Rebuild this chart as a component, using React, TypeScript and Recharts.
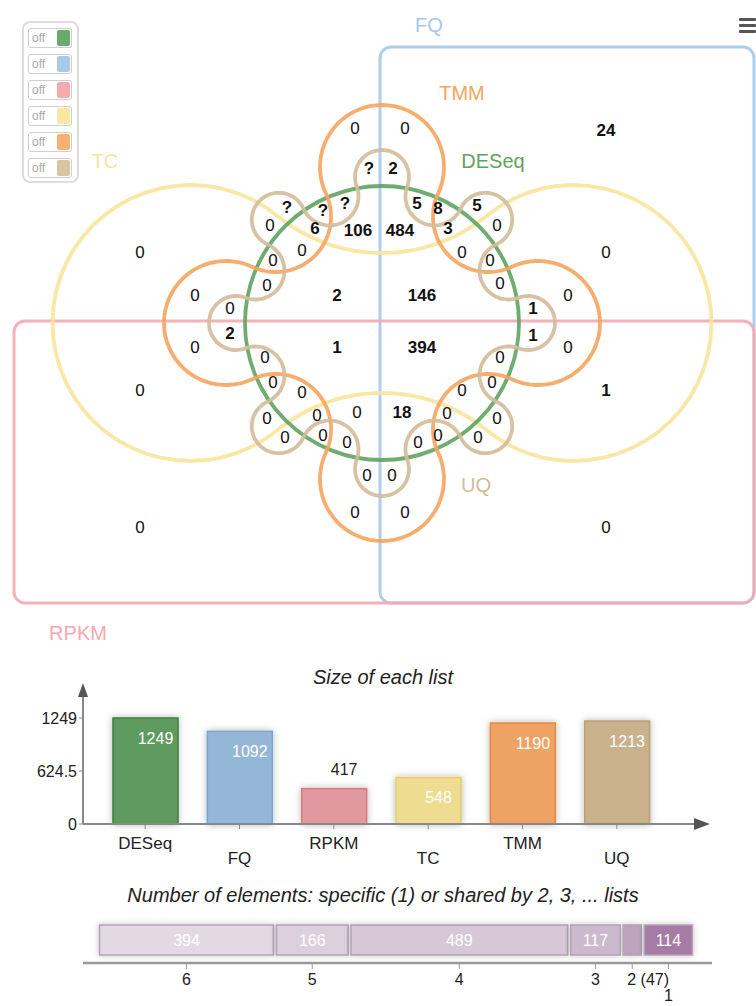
import React from 'react';
import {
  ScatterChart,
  Scatter,
  XAxis,
  YAxis,
  ReferenceArea,
  BarChart,
  Bar,
  LabelList,
} from 'recharts';

const FONT = '"Liberation Sans", Arial, Helvetica, sans-serif';

// the six lists
const setNames = ['DESeq', 'FQ', 'RPKM', 'TC', 'TMM', 'UQ'];
const listSizes = [1249, 1092, 417, 548, 1190, 1213];
const sizeTicks = [0, 624.5, 1249];

// elements shared by 6, 5, 4, 3, 2 lists or specific to 1
const sharedBy = [6, 5, 4, 3, 2, 1];
const sharedCounts = [394, 166, 489, 117, 47, 114];

// venn region counts, as printed on the figure
const regionValues = [
  '0', '0', '24',
  '?', '2',
  '?', '?', '?',
  '5', '8', '5',
  '0', '6', '106', '484', '3', '0',
  '0', '0', '0', '0',
  '0', '0',
  '0', '0',
  '0', '2', '146', '0',
  '0', '1',
  '2', '1',
  '0', '1', '394', '0',
  '0', '0',
  '0', '0',
  '0', '0', '0', '1',
  '0', '0', '18', '0',
  '0', '0',
  '0', '0', '0', '0', '0', '0',
  '0', '0',
  '0', '0', '0', '0',
];

// ---- styling / layout (kept apart from the values) ----
const setColors = ['#5fa35f', '#a6c8ea', '#f5a8b0', '#f7e49b', '#f6a45e', '#d3bd99'];
const legendColors = ['#6aab6a', '#a9c9e9', '#f4aab1', '#f9e8a2', '#f8b072', '#d8c4a1'];
const barFills = ['#5f9b5f', '#94b7d7', '#e1989e', '#eedc91', '#eea263', '#c9b18c'];
const barStrokes = ['#3e7e3e', '#7ea6cc', '#d47a83', '#e4cd6c', '#e5883c', '#b89f78'];
const sharedFills = ['#e3d9e3', '#ddd0dd', '#d7c8d7', '#cdb9cd', '#bda3bd', '#a67ca6'];

const regionSpots: [number, number][] = [
  [355, 128], [405, 128], [606, 130],
  [369, 168], [393, 168],
  [287, 207], [323, 210], [345, 203],
  [417, 203], [438, 208], [477, 205],
  [270, 225], [315, 228], [358, 230], [400, 230], [448, 228], [497, 225],
  [140, 252], [302, 250], [462, 252], [606, 252],
  [273, 260], [490, 260],
  [267, 285], [500, 283],
  [195, 295], [337, 295], [422, 295], [568, 295],
  [230, 308], [533, 308],
  [230, 333], [533, 335],
  [195, 347], [337, 347], [422, 347], [568, 347],
  [265, 357], [500, 357],
  [273, 382], [492, 382],
  [140, 390], [302, 392], [462, 390], [606, 390],
  [317, 415], [357, 412], [402, 412], [447, 413],
  [267, 418], [497, 418],
  [285, 437], [323, 435], [347, 442], [418, 442], [438, 435], [478, 437],
  [367, 475], [392, 475],
  [140, 527], [355, 512], [405, 512], [606, 527],
];
const setLabelSpots: [number, number][] = [
  [493, 168], [429, 32], [78, 640], [105, 168], [462, 100], [476, 492],
];

const VENN_W = 756;
const VENN_H = 650;
const wheelCentre = [{ x: 382, y: 323 }];
const deseqRadius = 137;
const fqBox = { x1: 380, x2: 754, y1: 47, y2: 603 };
const rpkmBox = { x1: 14, x2: 754, y1: 321, y2: 603 };

type Cog = { teeth: number; phase: number; rhoOut: number; rOut: number; dip: number };
const tcCog: Cog = { teeth: 2, phase: 0, rhoOut: 191.5, rOut: 138, dip: 70 };
const tmmCog: Cog = { teeth: 4, phase: Math.PI / 2, rhoOut: 156, rOut: 62, dip: 95 };
const uqCog: Cog = { teeth: 8, phase: 0, rhoOut: 146, rOut: 27, dip: 108 };

// Edwards-style cogwheel: chain of tangent circles, alternating out/in
function cogPath(cx: number, cy: number, g: Cog): string {
  const step = Math.PI / g.teeth;
  const c = Math.cos(step);
  const rIn =
    (g.rOut * g.rOut - g.rhoOut * g.rhoOut - g.dip * g.dip + 2 * g.rhoOut * g.dip * c) /
    (2 * (g.dip - g.rhoOut * c - g.rOut));
  const rhoIn = g.dip + rIn;
  const lobes: { x: number; y: number; r: number; out: boolean }[] = [];
  for (let k = 0; k < 2 * g.teeth; k++) {
    const a = g.phase + k * step;
    const out = k % 2 === 0;
    const rho = out ? g.rhoOut : rhoIn;
    lobes.push({ x: rho * Math.cos(a), y: rho * Math.sin(a), r: out ? g.rOut : rIn, out });
  }
  const n = lobes.length;
  const touch = lobes.map((l, k) => {
    const m = lobes[(k + 1) % n];
    const d = Math.hypot(m.x - l.x, m.y - l.y);
    return { x: l.x + ((m.x - l.x) * l.r) / d, y: l.y + ((m.y - l.y) * l.r) / d };
  });
  const pts: string[] = [];
  lobes.forEach((l, k) => {
    const s = touch[(k - 1 + n) % n];
    const e = touch[k];
    const a0 = Math.atan2(s.y - l.y, s.x - l.x);
    let a1 = Math.atan2(e.y - l.y, e.x - l.x);
    if (l.out) {
      while (a1 <= a0) a1 += 2 * Math.PI;
    } else {
      while (a1 >= a0) a1 -= 2 * Math.PI;
    }
    for (let i = 0; i <= 40; i++) {
      const a = a0 + ((a1 - a0) * i) / 40;
      const px = cx + l.x + l.r * Math.cos(a);
      const py = cy - (l.y + l.r * Math.sin(a));
      pts.push(`${px.toFixed(1)},${py.toFixed(1)}`);
    }
  });
  return 'M' + pts.join('L') + 'Z';
}

const regionData = regionValues.map((v, i) => ({ x: regionSpots[i][0], y: regionSpots[i][1], v }));
const setLabelData = setNames.map((v, i) => ({
  x: setLabelSpots[i][0],
  y: setLabelSpots[i][1],
  v,
  c: setColors[i],
}));

const strokeProps = { fill: 'none', strokeWidth: 3.8, strokeOpacity: 0.9 };

const boxShape = (color: string) => (p: any) => (
  <rect
    x={p.x}
    y={p.y}
    width={p.width}
    height={p.height}
    rx={11}
    fill="none"
    stroke={color}
    strokeWidth={3}
    strokeOpacity={0.9}
  />
);

function VennChart() {
  return (
    <ScatterChart width={VENN_W} height={VENN_H} margin={{ top: 0, right: 0, bottom: 0, left: 0 }}>
      <XAxis type="number" dataKey="x" domain={[0, VENN_W]} hide />
      <YAxis type="number" dataKey="y" domain={[0, VENN_H]} reversed hide />
      <ReferenceArea {...fqBox} shape={boxShape(setColors[1])} />
      <ReferenceArea {...rpkmBox} shape={boxShape(setColors[2])} />
      <Scatter
        data={wheelCentre}
        isAnimationActive={false}
        shape={(p: any) => <path d={cogPath(p.cx, p.cy, tcCog)} stroke={setColors[3]} {...strokeProps} />}
      />
      <Scatter
        data={wheelCentre}
        isAnimationActive={false}
        shape={(p: any) => (
          <circle cx={p.cx} cy={p.cy} r={deseqRadius} stroke={setColors[0]} {...strokeProps} />
        )}
      />
      <Scatter
        data={wheelCentre}
        isAnimationActive={false}
        shape={(p: any) => <path d={cogPath(p.cx, p.cy, tmmCog)} stroke={setColors[4]} {...strokeProps} />}
      />
      <Scatter
        data={wheelCentre}
        isAnimationActive={false}
        shape={(p: any) => <path d={cogPath(p.cx, p.cy, uqCog)} stroke={setColors[5]} {...strokeProps} />}
      />
      <Scatter
        data={setLabelData}
        isAnimationActive={false}
        shape={(p: any) => (
          <text x={p.cx} y={p.cy} textAnchor="middle" fontSize={20} fontFamily={FONT} fill={p.payload.c}>
            {p.payload.v}
          </text>
        )}
      />
      <Scatter
        data={regionData}
        isAnimationActive={false}
        shape={(p: any) => (
          <text
            x={p.cx}
            y={p.cy + 6}
            textAnchor="middle"
            fontSize={17}
            fontFamily={FONT}
            fontWeight={p.payload.v === '0' ? 'normal' : 'bold'}
            fill="#111"
          >
            {p.payload.v}
          </text>
        )}
      />
    </ScatterChart>
  );
}

function Legend() {
  return (
    <div
      style={{
        position: 'absolute',
        left: 22,
        top: 21,
        width: 53,
        height: 158,
        border: '2px solid #ddd',
        borderRadius: 8,
        background: '#fff',
      }}
    >
      {legendColors.map((c, i) => (
        <div
          key={i}
          style={{
            position: 'absolute',
            left: 4,
            top: 5 + i * 26,
            width: 42,
            height: 18,
            border: '1.5px solid #cfcfcf',
            borderRadius: 3,
            display: 'flex',
            overflow: 'hidden',
            background: '#fff',
          }}
        >
          <span style={{ width: 24, fontSize: 12, color: '#aaa', fontFamily: FONT, lineHeight: '18px', paddingLeft: 3 }}>
            off
          </span>
          <span style={{ flex: 1, background: c, margin: 1, borderRadius: 2 }} />
        </div>
      ))}
    </div>
  );
}

function Burger() {
  return (
    <div style={{ position: 'absolute', left: 739, top: 18 }}>
      {[0, 1, 2].map((i) => (
        <div
          key={i}
          style={{ position: 'absolute', top: i * 6, width: 17, height: 3, background: '#555', borderRadius: 1 }}
        />
      ))}
    </div>
  );
}

const sizeData = setNames.map((name, i) => ({ name, size: listSizes[i] }));
const sizeMax = Math.max(...listSizes);

const ArrowUp = (p: any) => {
  const vb = p.viewBox;
  const x = vb.x + vb.width;
  return <path d={`M${x - 5},${vb.y + 2} L${x},${vb.y - 12} L${x + 5},${vb.y + 2} Z`} fill="#555" />;
};
const ArrowRight = (p: any) => {
  const vb = p.viewBox;
  const x = vb.x + vb.width;
  return <path d={`M${x - 2},${vb.y - 6} L${x + 14},${vb.y} L${x - 2},${vb.y + 6} Z`} fill="#555" />;
};

const SizeTick = (p: any) => (
  <text
    x={p.x}
    y={p.y + (p.index % 2 ? 33 : 18)}
    textAnchor="middle"
    fontSize={17}
    fontFamily={FONT}
    fill="#222"
  >
    {p.payload.value}
  </text>
);

const SizeLabel = (p: any) => {
  const inside = p.value / sizeMax > 0.4;
  return (
    <text
      x={p.x + p.width / 2 + 10}
      y={inside ? p.y + 26 : p.y - 14}
      textAnchor="middle"
      fontSize={16}
      fontFamily={FONT}
      fill={inside ? '#fff' : '#222'}
    >
      {p.value}
    </text>
  );
};

function SizeChart() {
  return (
    <BarChart
      width={756}
      height={220}
      data={sizeData}
      margin={{ top: 45, right: 60, bottom: 6, left: 8 }}
    >
      <defs>
        <filter id="softShadow" x="-30%" y="-30%" width="160%" height="160%">
          <feDropShadow dx="0" dy="0" stdDeviation="3.5" floodColor="#000" floodOpacity="0.28" />
        </filter>
      </defs>
      <XAxis
        dataKey="name"
        height={40}
        padding={{ left: 15, right: 32 }}
        interval={0}
        tick={<SizeTick />}
        tickSize={5}
        tickLine={{ stroke: '#888' }}
        axisLine={{ stroke: '#888', strokeWidth: 2 }}
        label={<ArrowRight />}
      />
      <YAxis
        width={75}
        domain={[0, 1520]}
        ticks={sizeTicks}
        interval={0}
        tickSize={4}
        tickLine={{ stroke: '#888' }}
        axisLine={{ stroke: '#888', strokeWidth: 2 }}
        tick={{ fontSize: 16, fill: '#222', fontFamily: FONT }}
        label={<ArrowUp />}
      />
      <Bar
        dataKey="size"
        barSize={65}
        isAnimationActive={false}
        shape={(p: any) => (
          <rect
            x={p.x}
            y={p.y}
            width={p.width}
            height={p.height}
            fill={barFills[p.index]}
            stroke={barStrokes[p.index]}
            strokeWidth={1.5}
            filter="url(#softShadow)"
          />
        )}
      >
        <LabelList dataKey="size" content={<SizeLabel />} />
      </Bar>
    </BarChart>
  );
}

const sharedTotal = sharedCounts.reduce((a, b) => a + b, 0);
const sharedRow = [
  sharedBy.reduce((row: any, k, i) => ({ ...row, [`g${k}`]: sharedCounts[i] }), { name: 'all' }),
];
const sharedMid = sharedCounts.map(
  (v, i) => sharedCounts.slice(0, i).reduce((a, b) => a + b, 0) + v / 2,
);
const isNarrow = (v: number) => v / sharedTotal < 0.05;

const SharedTick = (p: any) => {
  const i = sharedMid.indexOf(p.payload.value);
  if (i < 0) return null;
  const narrow = isNarrow(sharedCounts[i]);
  const pushed = i > 0 && isNarrow(sharedCounts[i - 1]);
  return (
    <text
      x={narrow ? p.x - 5 : p.x}
      y={p.y + (pushed ? 30 : 14)}
      textAnchor={narrow ? 'start' : 'middle'}
      fontSize={16}
      fontFamily={FONT}
      fill="#222"
    >
      {narrow ? `${sharedBy[i]} (${sharedCounts[i]})` : sharedBy[i]}
    </text>
  );
};

function SharedChart() {
  return (
    <BarChart
      layout="vertical"
      width={756}
      height={101}
      data={sharedRow}
      margin={{ top: 12, right: 44, bottom: 3, left: 83 }}
    >
      <defs>
        <filter id="segShadow" x="-10%" y="-40%" width="120%" height="180%">
          <feDropShadow dx="0" dy="0" stdDeviation="3" floodColor="#000" floodOpacity="0.22" />
        </filter>
      </defs>
      <XAxis
        type="number"
        domain={[0, sharedTotal]}
        ticks={sharedMid}
        interval={0}
        padding={{ left: 15, right: 18 }}
        height={40}
        tickSize={6}
        tickLine={{ stroke: '#999' }}
        axisLine={{ stroke: '#999', strokeWidth: 2.5 }}
        tick={<SharedTick />}
      />
      <YAxis type="category" dataKey="name" hide />
      {sharedBy.map((k, i) => (
        <Bar
          key={k}
          dataKey={`g${k}`}
          stackId="shared"
          barSize={30}
          isAnimationActive={false}
          shape={(p: any) => (
            <rect
              x={p.x + 1.5}
              y={p.y}
              width={Math.max(p.width - 3, 0)}
              height={p.height}
              fill={sharedFills[i]}
              stroke="#b3a3b3"
              strokeWidth={1.5}
              filter="url(#segShadow)"
            />
          )}
        >
          <LabelList
            dataKey={`g${k}`}
            content={(p: any) =>
              isNarrow(Number(p.value)) ? null : (
                <text
                  x={p.x + p.width / 2}
                  y={p.y + p.height / 2 + 6}
                  textAnchor="middle"
                  fontSize={16}
                  fontFamily={FONT}
                  fill="#fff"
                >
                  {p.value}
                </text>
              )
            }
          />
        </Bar>
      ))}
    </BarChart>
  );
}

export default function App() {
  return (
    <div
      style={{
        position: 'absolute',
        left: 0,
        top: 0,
        width: 756,
        height: 1006,
        background: '#fff',
        overflow: 'hidden',
        fontFamily: FONT,
      }}
    >
      <div style={{ position: 'absolute', left: 0, top: 0 }}>
        <VennChart />
      </div>
      <Legend />
      <Burger />
      <div
        style={{
          position: 'absolute',
          left: 5,
          top: 665,
          width: 756,
          textAlign: 'center',
          fontStyle: 'italic',
          fontSize: 20,
          color: '#222',
          lineHeight: '24px',
        }}
      >
        Size of each list
      </div>
      <div style={{ position: 'absolute', left: 0, top: 650 }}>
        <SizeChart />
      </div>
      <div
        style={{
          position: 'absolute',
          left: 5,
          top: 883,
          width: 756,
          textAlign: 'center',
          fontStyle: 'italic',
          fontSize: 20,
          color: '#222',
          lineHeight: '24px',
        }}
      >
        Number of elements: specific (1) or shared by 2, 3, ... lists
      </div>
      <div style={{ position: 'absolute', left: 0, top: 905 }}>
        <SharedChart />
      </div>
    </div>
  );
}
